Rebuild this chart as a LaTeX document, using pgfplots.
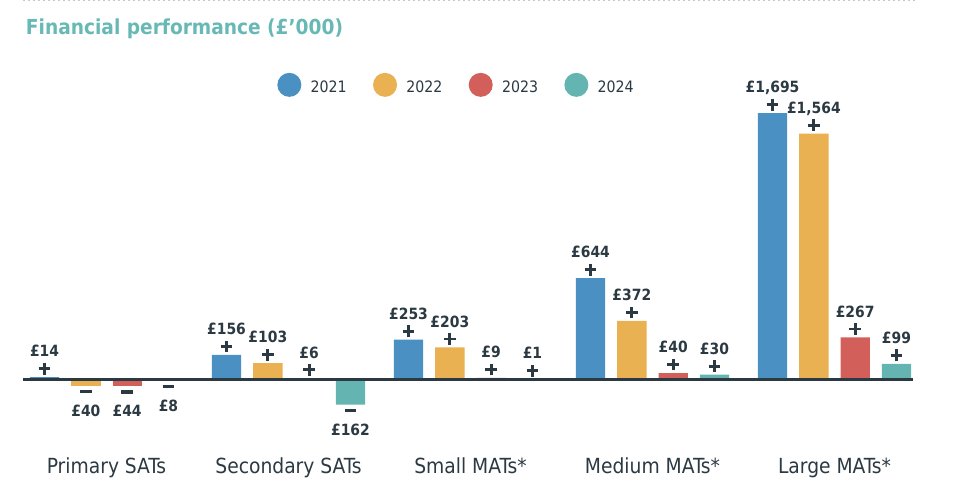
\documentclass[border=0pt]{standalone}
\usepackage{fontspec}
\setmainfont{DejaVu Sans Condensed}[BoldFont={DejaVu Sans Condensed Bold}]
\usepackage{pgfplots}
\pgfplotsset{compat=1.18}
\definecolor{c2021}{HTML}{4A90C2}
\definecolor{c2022}{HTML}{E9B152}
\definecolor{c2023}{HTML}{D35F5A}
\definecolor{c2024}{HTML}{64B5B2}
\definecolor{txt}{HTML}{2B3942}
\definecolor{ttl}{HTML}{68B9B5}
\definecolor{dotc}{HTML}{C8C8C8}
\renewcommand\arraystretch{1}
\newcommand\bigplus{\makebox[8.8pt][l]{\rule[3.3pt]{8.8pt}{2.2pt}\hspace{-5.5pt}\rule{2.2pt}{8.8pt}}}
\newcommand\bigminus{\rule[4pt]{8.6pt}{2.5pt}}
\pgfplotsset{
  pos/.style={point meta=explicit symbolic,
    nodes near coords={\begin{tabular}[b]{@{}c@{}}£\pgfplotspointmeta\\\bigplus\end{tabular}},
    every node near coord/.append style={anchor=base, yshift=1.9pt}},
  neg/.style={point meta=explicit symbolic, forget plot,
    nodes near coords={\begin{tabular}[t]{@{}c@{}}\bigminus\\£\pgfplotspointmeta\end{tabular}},
    every node near coord/.append style={anchor=base, yshift=-9.6pt}},
}
\begin{document}
\begin{tikzpicture}
\path[use as bounding box] (0,0) rectangle (727.5pt,374.25pt);
\draw[dotc, line width=0.75pt, dash pattern=on 1.5pt off 2.25pt] (17.25pt,373.5pt) -- (686.25pt,373.5pt);
\node[anchor=base west, inner sep=0pt, font=\bfseries\fontsize{15.5}{18}\selectfont, text=ttl] at (19.3pt,348.5pt) {Financial performance (£’000)};
\begin{axis}[
  at={(17.25pt,66.225pt)}, anchor=south west,
  scale only axis, width=667.5pt, height=235.5pt,
  xmin=-0.4588, xmax=4.4313, ymin=-200, ymax=1800,
  clip=false,
  axis line style={draw=none}, tick style={draw=none},
  ytick=\empty, xtick={0,1,2,3,4},
  xticklabels={Primary SATs, Secondary SATs, Small MATs*, Medium MATs*, Large MATs*},
  xticklabel style={font=\fontsize{15.6}{18}\selectfont, text=txt, anchor=base, yshift=-42.5pt},
  ybar, bar width=21.98pt,
  every node near coord/.append style={font=\bfseries\fontsize{11.6}{13.3}\selectfont, text=txt, inner sep=0pt},
  legend style={at={(0.4875,1.037)}, anchor=center, draw=none, fill=none,
    font=\fontsize{11.8}{14}\selectfont, text=txt, inner sep=0pt,
    /tikz/every odd column/.append style={column sep=5pt},
    /tikz/every even column/.append style={column sep=17.75pt}},
  legend columns=4,
  legend image code/.code={\fill[#1] (0pt,2.2pt) circle (9pt);},
]
% 2021
\addplot[fill=c2021, draw=none, bar shift=-46.48pt, pos] table[x=g, y=v, meta=lab] {
g v lab
0 14 14
1 156 156
2 253 253
3 644 644
4 1695 1,695
};
\addlegendentry{2021}
% 2022
\addplot[fill=c2022, draw=none, bar shift=-15.49pt, pos] table[x=g, y=v, meta=lab] {
g v lab
1 103 103
2 203 203
3 372 372
4 1564 1,564
};
\addlegendentry{2022}
% 2023
\addplot[fill=c2023, draw=none, bar shift=15.49pt, pos] table[x=g, y=v, meta=lab] {
g v lab
1 6 6
2 9 9
3 40 40
4 267 267
};
\addlegendentry{2023}
% 2024
\addplot[fill=c2024, draw=none, bar shift=46.48pt, pos] table[x=g, y=v, meta=lab] {
g v lab
2 1 1
3 30 30
4 99 99
};
\addlegendentry{2024}
% negative values
\addplot[fill=c2022, draw=none, bar shift=-15.49pt, neg] table[x=g, y=v, meta=lab] {
g v lab
0 -40 40
};
\addplot[fill=c2023, draw=none, bar shift=15.49pt, neg] table[x=g, y=v, meta=lab] {
g v lab
0 -44 44
};
\addplot[fill=c2024, draw=none, bar shift=46.48pt, neg] table[x=g, y=v, meta=lab] {
g v lab
0 -8 8
1 -162 162
};
\draw[txt, line width=1.9pt] (axis cs:-0.4588,0) -- (axis cs:4.4313,0);
\end{axis}
\end{tikzpicture}
\end{document}
